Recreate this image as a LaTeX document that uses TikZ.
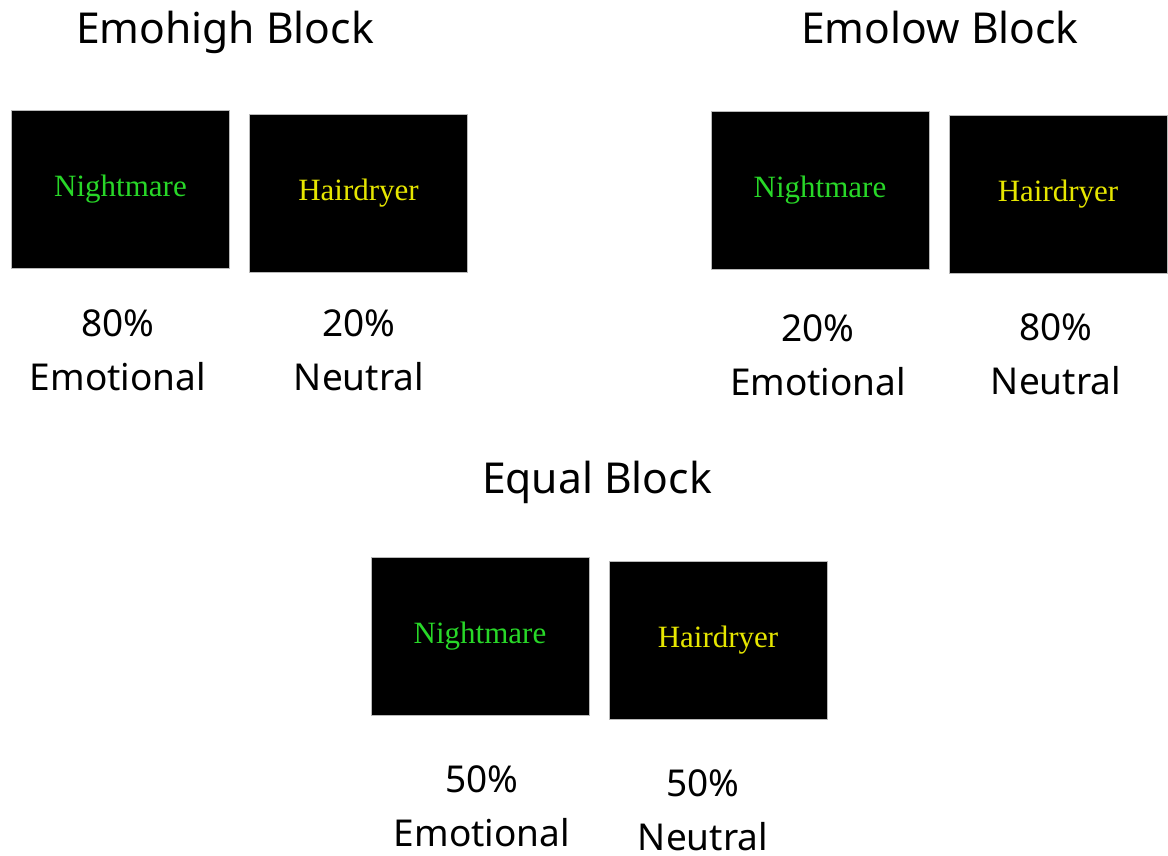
\documentclass[tikz,border=0pt]{standalone}
\usepackage{fontspec}
\setmainfont{Noto Sans}
\newfontfamily\wordfont{Liberation Serif}
\begin{document}
\begin{tikzpicture}[x=1pt,y=-1pt,
  screen/.style={draw=gray!55, line width=0.6pt, fill=black, minimum width=218pt, minimum height=158pt, inner sep=0pt, font=\wordfont\fontsize{31}{31}\selectfont},
  emo/.style={screen, text={rgb,255:red,40;green,215;blue,40}},
  neu/.style={screen, text={rgb,255:red,230;green,230;blue,0}},
  title/.style={font=\fontsize{42.6}{42.6}\selectfont, inner sep=0pt},
  share/.style={font=\fontsize{37}{54}\selectfont, align=center, inner sep=0pt}]
\useasboundingbox (0,0) rectangle (1168,856);

% Emohigh block
\node[title] (hiT) at (225,32) {Emohigh Block};
\node[emo] (hiE) at (120.5,189.5) {Nightmare};
\node[neu] (hiN) at (358.5,193.5) {Hairdryer};
\node[share] (hiEs) at (118,350) {80\%\\Emotional};
\node[share] (hiNs) at (359,350) {20\%\\Neutral};

% Emolow block
\node[title] (loT) at (940,28) {Emolow Block};
\node[emo] (loE) at (820,190.5) {Nightmare};
\node[neu] (loN) at (1058,194.5) {Hairdryer};
\node[share] (loEs) at (818,355) {20\%\\Emotional};
\node[share] (loNs) at (1056,354) {80\%\\Neutral};

% Equal block
\node[title] (eqT) at (597,482) {Equal Block};
\node[emo] (eqE) at (480,636) {Nightmare};
\node[neu] (eqN) at (718,640) {Hairdryer};
\node[share] (eqEs) at (482,806) {50\%\\Emotional};
\node[share] (eqNs) at (703,810) {50\%\\Neutral};
\end{tikzpicture}
\end{document}
